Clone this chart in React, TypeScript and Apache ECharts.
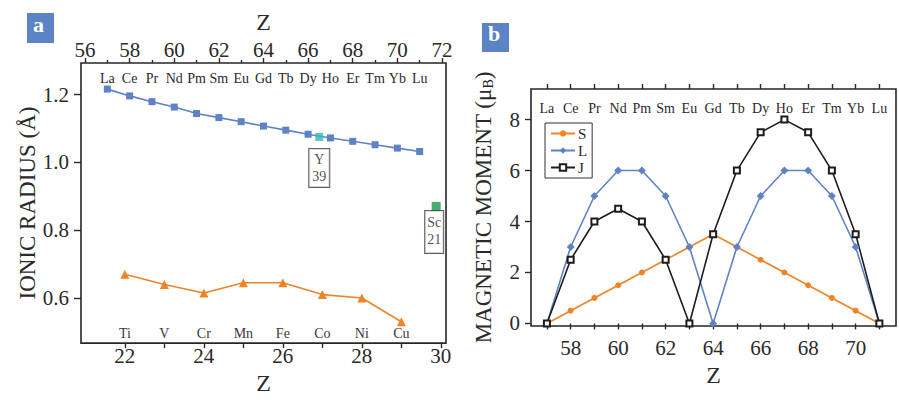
import React, { useEffect, useRef } from "react";
import * as echarts from "echarts";

// ---------- data ----------
const lnNames = ["La", "Ce", "Pr", "Nd", "Pm", "Sm", "Eu", "Gd", "Tb", "Dy", "Ho", "Er", "Tm", "Yb", "Lu"];
const lnZ = [57, 58, 59, 60, 61, 62, 63, 64, 65, 66, 67, 68, 69, 70, 71];
const lnRadius = [1.216, 1.196, 1.179, 1.163, 1.144, 1.132, 1.12, 1.107, 1.095, 1.083, 1.072, 1.062, 1.052, 1.042, 1.032];

const tmNames = ["Ti", "V", "Cr", "Mn", "Fe", "Co", "Ni", "Cu"];
const tmZ = [22, 23, 24, 25, 26, 27, 28, 29];
const tmRadius = [0.67, 0.64, 0.615, 0.645, 0.645, 0.61, 0.6, 0.53];

const yttriumPos = [66.5, 1.075];
const yttriumLabel = "Y\n39";
const scandiumPos = [71.74, 0.87];
const scandiumLabel = "Sc\n21";

const spinS = [0, 0.5, 1, 1.5, 2, 2.5, 3, 3.5, 3, 2.5, 2, 1.5, 1, 0.5, 0];
const orbitalL = [0, 3, 5, 6, 6, 5, 3, 0, 3, 5, 6, 6, 5, 3, 0];
const totalJ = [0, 2.5, 4, 4.5, 4, 2.5, 0, 3.5, 6, 7.5, 8, 7.5, 6, 3.5, 0];

const leftBottomTicks = [22, 23, 24, 25, 26, 27, 28, 29, 30];
const leftBottomLabels = [22, 24, 26, 28, 30];
const leftTopMajor = [56, 58, 60, 62, 64, 66, 68, 70, 72];
const leftTopMinor = [57, 59, 61, 63, 65, 67, 69, 71];
const leftYTicks = [0.6, 0.8, 1.0, 1.2];
const rightXTicks = [57, 58, 59, 60, 61, 62, 63, 64, 65, 66, 67, 68, 69, 70, 71];
const rightXLabels = [58, 60, 62, 64, 66, 68, 70];
const rightYTicks = [0, 2, 4, 6, 8];

// ---------- styles ----------
const FONT = "Liberation Serif";
const TXT = "#2a2a2a";
const BLUE = "#5f82c6";
const ORANGE = "#ee8427";
const BLACK = "#1c1c1c";
const TEAL = "#35b8b0";
const GREEN = "#169c4c";

const zip = (xs: number[], ys: number[]) => xs.map((x, i) => [x, ys[i]]);

export default function App() {
  const ref = useRef<HTMLDivElement>(null);

  useEffect(() => {
    if (!ref.current) return;
    const chart = echarts.init(ref.current, null, { renderer: "svg" });

    const hiddenLine = { show: false };
    const tickStyle = { color: TXT, width: 1.4 };
    const numLabel = { fontFamily: FONT, fontSize: 21, color: TXT };

    const boxLabel = {
      show: true, position: "bottom",
      fontFamily: FONT, fontSize: 14, lineHeight: 17, color: "#1a1a1a", align: "center",
      backgroundColor: "#fff", borderColor: "#333", borderWidth: 1,
    };

    const option: any = {
      animation: false,
      backgroundColor: "#ffffff",
      grid: [
        { left: 81, top: 63, width: 365, height: 285, show: true, borderColor: "#262626", borderWidth: 1.6, backgroundColor: "transparent" },
        { left: 531, top: 89, width: 365, height: 237, show: true, borderColor: "#262626", borderWidth: 1.6, backgroundColor: "transparent" },
      ],
      xAxis: [
        // 0: left bottom (transition metals)
        {
          gridIndex: 0, type: "value", position: "bottom", min: 20.89, max: 30.13,
          axisLine: hiddenLine, splitLine: { show: false },
          axisTick: { show: true, length: 5, lineStyle: tickStyle, customValues: leftBottomTicks },
          axisLabel: { ...numLabel, margin: 2, customValues: leftBottomLabels },
          name: "Z", nameLocation: "middle", nameGap: 24,
          nameTextStyle: { fontFamily: FONT, fontSize: 24, color: TXT },
        },
        // 1: left top (lanthanides) major
        {
          gridIndex: 0, type: "value", position: "top", min: 55.82, max: 72.18,
          axisLine: hiddenLine, splitLine: { show: false },
          axisTick: { show: true, length: 5, lineStyle: tickStyle, customValues: leftTopMajor },
          axisLabel: { ...numLabel, margin: 3, customValues: leftTopMajor },
          name: "Z", nameLocation: "middle", nameGap: 29,
          nameTextStyle: { fontFamily: FONT, fontSize: 24, color: TXT },
        },
        // 2: left top minor ticks
        {
          gridIndex: 0, type: "value", position: "top", min: 55.82, max: 72.18,
          axisLine: hiddenLine, splitLine: { show: false },
          axisTick: { show: true, length: 3, lineStyle: tickStyle, customValues: leftTopMinor },
          axisLabel: { show: false },
        },
        // 3: left top element labels (inside)
        {
          gridIndex: 0, type: "value", position: "top", min: 55.82, max: 72.18,
          axisLine: hiddenLine, splitLine: { show: false }, axisTick: { show: false },
          axisLabel: {
            inside: true, margin: 8, fontFamily: FONT, fontSize: 14, color: TXT,
            customValues: lnZ, formatter: (v: number) => lnNames[lnZ.indexOf(Math.round(v))] ?? "",
          },
        },
        // 4: left bottom element labels (inside)
        {
          gridIndex: 0, type: "value", position: "bottom", min: 20.89, max: 30.13,
          axisLine: hiddenLine, splitLine: { show: false }, axisTick: { show: false },
          axisLabel: {
            inside: true, margin: 3, fontFamily: FONT, fontSize: 14, color: "#3a3a3a",
            customValues: tmZ, formatter: (v: number) => tmNames[tmZ.indexOf(Math.round(v))] ?? "",
          },
        },
        // 5: right bottom
        {
          gridIndex: 1, type: "value", position: "bottom", min: 56.33, max: 71.7,
          axisLine: hiddenLine, splitLine: { show: false },
          axisTick: { show: true, length: 6, lineStyle: tickStyle, customValues: rightXTicks },
          axisLabel: { ...numLabel, margin: 11, customValues: rightXLabels },
          name: "Z", nameLocation: "middle", nameGap: 36,
          nameTextStyle: { fontFamily: FONT, fontSize: 24, color: TXT },
        },
        // 6: right top ticks
        {
          gridIndex: 1, type: "value", position: "top", min: 56.33, max: 71.7,
          axisLine: hiddenLine, splitLine: { show: false },
          axisTick: { show: true, length: 5, lineStyle: tickStyle, customValues: rightXTicks },
          axisLabel: { show: false },
        },
        // 7: right top element labels
        {
          gridIndex: 1, type: "value", position: "top", min: 56.33, max: 71.7,
          axisLine: hiddenLine, splitLine: { show: false }, axisTick: { show: false },
          axisLabel: {
            inside: true, margin: 12, fontFamily: FONT, fontSize: 14, color: TXT,
            customValues: lnZ, formatter: (v: number) => lnNames[lnZ.indexOf(Math.round(v))] ?? "",
          },
        },
      ],
      yAxis: [
        {
          gridIndex: 0, type: "value", position: "left", min: 0.467, max: 1.293,
          axisLine: hiddenLine, splitLine: { show: false },
          axisTick: { show: true, length: 7, lineStyle: tickStyle, customValues: leftYTicks },
          axisLabel: { ...numLabel, margin: 12, customValues: leftYTicks, formatter: (v: number) => v.toFixed(1) },
          name: "IONIC RADIUS (Å)", nameLocation: "middle", nameGap: 40,
          nameTextStyle: { fontFamily: FONT, fontSize: 23, color: TXT },
        },
        {
          gridIndex: 1, type: "value", position: "left", min: -0.1, max: 9.2,
          axisLine: hiddenLine, splitLine: { show: false },
          axisTick: { show: true, length: 6, lineStyle: tickStyle, customValues: rightYTicks },
          axisLabel: { ...numLabel, margin: 11, customValues: rightYTicks },
          name: "{a|MAGNETIC MOMENT (μ}{b|B}{a|)}", nameLocation: "middle", nameGap: 36,
          nameTextStyle: {
            fontFamily: FONT, fontSize: 23, color: TXT,
            rich: {
              a: { fontFamily: FONT, fontSize: 23, color: TXT, lineHeight: 28, verticalAlign: "bottom" },
              b: { fontFamily: FONT, fontSize: 14, color: TXT, lineHeight: 14, verticalAlign: "bottom" },
            },
          },
        },
      ],
      legend: {
        orient: "vertical", left: 545, top: 123,
        data: ["S", "L", "J"],
        itemWidth: 24, itemHeight: 8, itemGap: 2, padding: [3, 5, 3, 5],
        borderColor: "#333", borderWidth: 1, backgroundColor: "#fff",
        textStyle: { fontFamily: FONT, fontSize: 15, color: TXT, padding: [0, 0, 0, -2] },
      },
      graphic: [
        { type: "rect", left: 27, top: 13, shape: { width: 27, height: 30 }, style: { fill: "#5b83c6" } },
        { type: "text", left: 33, top: 13, style: { text: "a", fill: "#fff", font: "bold 22px Liberation Serif" } },
        { type: "rect", left: 482, top: 23, shape: { width: 27, height: 29 }, style: { fill: "#5b83c6" } },
        { type: "text", left: 488, top: 22, style: { text: "b", fill: "#fff", font: "bold 22px Liberation Serif" } },
      ],
      series: [
        {
          type: "line", xAxisIndex: 1, yAxisIndex: 0, data: zip(lnZ, lnRadius),
          symbol: "rect", symbolSize: 7, lineStyle: { color: BLUE, width: 1.6 }, itemStyle: { color: BLUE },
        },
        {
          type: "line", xAxisIndex: 0, yAxisIndex: 0, data: zip(tmZ, tmRadius),
          symbol: "triangle", symbolSize: 9, lineStyle: { color: ORANGE, width: 1.6 }, itemStyle: { color: ORANGE },
        },
        {
          type: "scatter", xAxisIndex: 1, yAxisIndex: 0, data: [yttriumPos],
          symbol: "rect", symbolSize: 8, itemStyle: { color: TEAL }, z: 5,
          label: { ...boxLabel, distance: 8, formatter: yttriumLabel, padding: [2, 3, 2, 3] },
        },
        {
          type: "scatter", xAxisIndex: 1, yAxisIndex: 0, data: [scandiumPos],
          symbol: "rect", symbolSize: 9, itemStyle: { color: GREEN }, z: 5,
          label: { ...boxLabel, distance: 0, offset: [-2, 0], formatter: scandiumLabel, padding: [3, 2, 5, 2] },
        },
        {
          name: "S", type: "line", xAxisIndex: 5, yAxisIndex: 1, data: zip(lnZ, spinS),
          symbol: "circle", symbolSize: 6, lineStyle: { color: ORANGE, width: 1.6 }, itemStyle: { color: ORANGE },
        },
        {
          name: "L", type: "line", xAxisIndex: 5, yAxisIndex: 1, data: zip(lnZ, orbitalL),
          symbol: "diamond", symbolSize: 8, lineStyle: { color: BLUE, width: 1.6 }, itemStyle: { color: BLUE },
        },
        {
          name: "J", type: "line", xAxisIndex: 5, yAxisIndex: 1, data: zip(lnZ, totalJ),
          symbol: "emptyRect", symbolSize: 6, lineStyle: { color: BLACK, width: 1.6 },
          itemStyle: { color: BLACK, borderWidth: 1 },
        },
      ],
    };

    chart.setOption(option);
    return () => chart.dispose();
  }, []);

  return (
    <div
      ref={ref}
      style={{ position: "absolute", left: 0, top: 0, width: 899, height: 400, background: "#fff" }}
    />
  );
}
